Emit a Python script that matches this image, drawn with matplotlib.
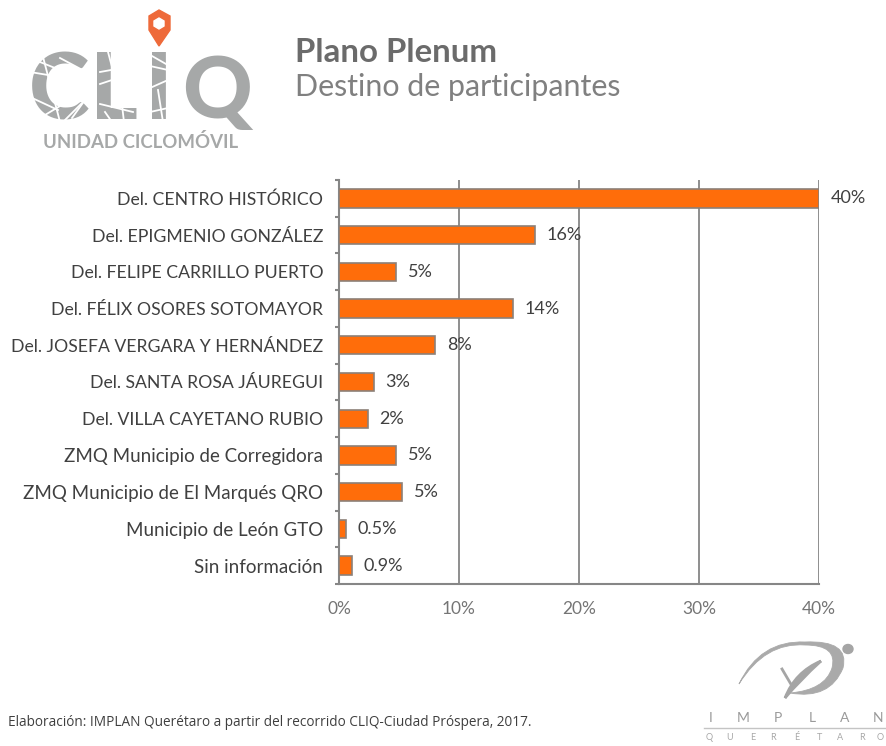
import numpy as np
import matplotlib
matplotlib.use('Agg')
import matplotlib.pyplot as plt
from matplotlib.patches import Polygon, Ellipse, PathPatch
from matplotlib.path import Path

# Input data
categories = ['Del. CENTRO HISTÓRICO', 'Del. EPIGMENIO GONZÁLEZ', 'Del. FELIPE CARRILLO PUERTO',
              'Del. FÉLIX OSORES SOTOMAYOR', 'Del. JOSEFA VERGARA Y HERNÁNDEZ', 'Del. SANTA ROSA JÁUREGUI',
              'Del. VILLA CAYETANO RUBIO', 'ZMQ Municipio de Corregidora', 'ZMQ Municipio de El Marqués QRO',
              'Municipio de León GTO', 'Sin información']
values = [40.0, 16.3, 4.75, 14.5, 8.0, 2.9, 2.4, 4.75, 5.25, 0.55, 1.05]
value_labels = ['40%', '16%', '5%', '14%', '8%', '3%', '2%', '5%', '5%', '0.5%', '0.9%']
x_ticks = [0, 10, 20, 30, 40]
x_tick_labels = ['0%', '10%', '20%', '30%', '40%']

W, H = 887, 746
plt.rcParams['font.family'] = ['Lato', 'DejaVu Sans']
fig = plt.figure(figsize=(W / 100, H / 100), dpi=100, facecolor='white')

# Page overlay in pixel coordinates for the logos and header
bg = fig.add_axes([0, 0, 1, 1])
bg.set_xlim(0, W)
bg.set_ylim(H, 0)
bg.axis('off')

# Chart
ax = fig.add_axes([339 / W, 1 - 584 / H, (819 - 339) / W, (584 - 180) / H])
y = np.arange(len(categories))
ax.barh(y, values, height=0.5, color='#FF6D0A', edgecolor='#8C8078', linewidth=1.2, zorder=3)
ax.set_ylim(len(categories) - 0.5, -0.5)
ax.set_xlim(0, 40)
ax.set_xticks(x_ticks)
ax.set_xticklabels(x_tick_labels, fontsize=12.5, color='#757575')
ax.set_yticks(y)
ax.set_yticklabels(categories, fontsize=12.7, color='#404040')
# mixed case labels run wider in the original font
for lab in ax.get_yticklabels():
    if not lab.get_text().startswith('Del.'):
        lab.set_fontsize(13.5)
ax.set_yticks(np.arange(-0.5, len(categories)), minor=True)
ax.tick_params(axis='y', which='major', length=0, pad=11.4)
ax.tick_params(axis='y', which='minor', length=3, width=1.5, color='#868686')
ax.tick_params(axis='x', length=0, pad=12.5)
ax.grid(True, axis='x', color='#868686', linewidth=1.3, zorder=1)
ax.set_axisbelow(True)
for s in ['top', 'right']:
    ax.spines[s].set_visible(False)
for s in ['left', 'bottom']:
    ax.spines[s].set_color('#868686')
    ax.spines[s].set_linewidth(1.5)
for yi, v, lab in zip(y, values, value_labels):
    ax.annotate(lab, (v, yi), xytext=(8.5, 0), textcoords='offset points', va='center', ha='left',
                fontsize=13, color='#404040', annotation_clip=False, zorder=4)

# Header text
bg.text(295, 52, 'Plano Plenum', fontsize=23.8, fontweight='bold', color='#6B6B6B', va='center')
bg.text(295, 87, 'Destino de participantes', fontsize=21.9, color='#808080', va='center')

# CLIQ logo
logo_grey = '#A6A8A8'
bg.text(59, 94, 'C', fontsize=66, fontweight='black', color=logo_grey, ha='center', va='center')
bg.text(114, 93, 'L', fontsize=66, fontweight='black', color=logo_grey, ha='center', va='center')
bg.text(159, 93, 'I', fontsize=66, fontweight='black', color=logo_grey, ha='center', va='center')
bg.text(217, 93, 'Q', fontsize=62, fontweight='black', color=logo_grey, ha='center', va='center')
cracks = [[(30, 72), (90, 82)], [(42, 53), (60, 122)], [(30, 97), (58, 110)], [(60, 58), (90, 74)],
          [(65, 120), (88, 97)], [(72, 118), (85, 100)], [(35, 60), (60, 70)], [(45, 115), (70, 100)],
          [(100, 72), (133, 66)], [(100, 104), (133, 112)], [(108, 52), (116, 82)],
          [(100, 84), (118, 78)], [(120, 88), (124, 122)], [(105, 112), (112, 122)],
          [(150, 66), (168, 70)], [(150, 88), (168, 80)], [(150, 112), (168, 108)],
          [(158, 90), (163, 122)], [(152, 56), (166, 64)]]
for c in cracks:
    bg.plot(*zip(*c), color='white', linewidth=1.3, zorder=3)
bg.add_patch(Polygon([(159, 10), (170, 16), (170, 30), (159, 46), (149, 30), (149, 16)],
                     closed=True, color='#EE6A3A', zorder=3))
bg.add_patch(Polygon([(159, 18), (164, 21), (164, 26), (159, 29), (154, 26), (154, 21)],
                     closed=True, color='white', zorder=4))
bg.text(141, 142, 'UNIDAD CICLOMÓVIL', fontsize=13.4, fontweight='bold', color=logo_grey, ha='center', va='center')

# IMPLAN logo
crescent = Path([(739, 684), (760, 640), (805, 642), (850, 640), (843, 668), (830, 700), (790, 693),
                 (825, 690), (832, 668), (838, 645), (805, 645), (765, 642), (739, 684)],
                [Path.MOVETO] + [Path.CURVE3] * 12)
bg.add_patch(PathPatch(crescent, facecolor='#AAAAAA', edgecolor='#AAAAAA', linewidth=0.6))
stroke = Path([(821, 661), (795, 672), (785, 698), (800, 680), (821, 661)],
              [Path.MOVETO] + [Path.CURVE3] * 4)
bg.add_patch(PathPatch(stroke, facecolor='#A5A5A5', edgecolor='#A5A5A5', linewidth=2))
bg.plot([782, 792], [669, 686], color='#A5A5A5', linewidth=2)
bg.add_patch(Ellipse((848, 649), 10, 9, color='#A5A5A5'))
for xp, ch in zip([711, 743, 778, 812, 845, 878], 'IMPLAN'):
    bg.text(xp, 718, ch, fontsize=10, color='#9A9A9A', ha='center', va='center')
bg.plot([704, 885], [728, 728], color='#C4C4C4', linewidth=1)
for xp, ch in zip([709, 730, 753, 773, 797, 819, 840, 862, 880], 'QUERÉTARO'):
    bg.text(xp, 738, ch, fontsize=6.5, color='#A8A8A8', ha='center', va='center')

# Footer
bg.text(8, 723, 'Elaboración: IMPLAN Querétaro a partir del recorrido CLIQ-Ciudad Próspera, 2017.',
        fontsize=9.8, color='#3F3F3F', va='center', family=['Open Sans', 'DejaVu Sans'])

fig.savefig('out.png', dpi=100)
